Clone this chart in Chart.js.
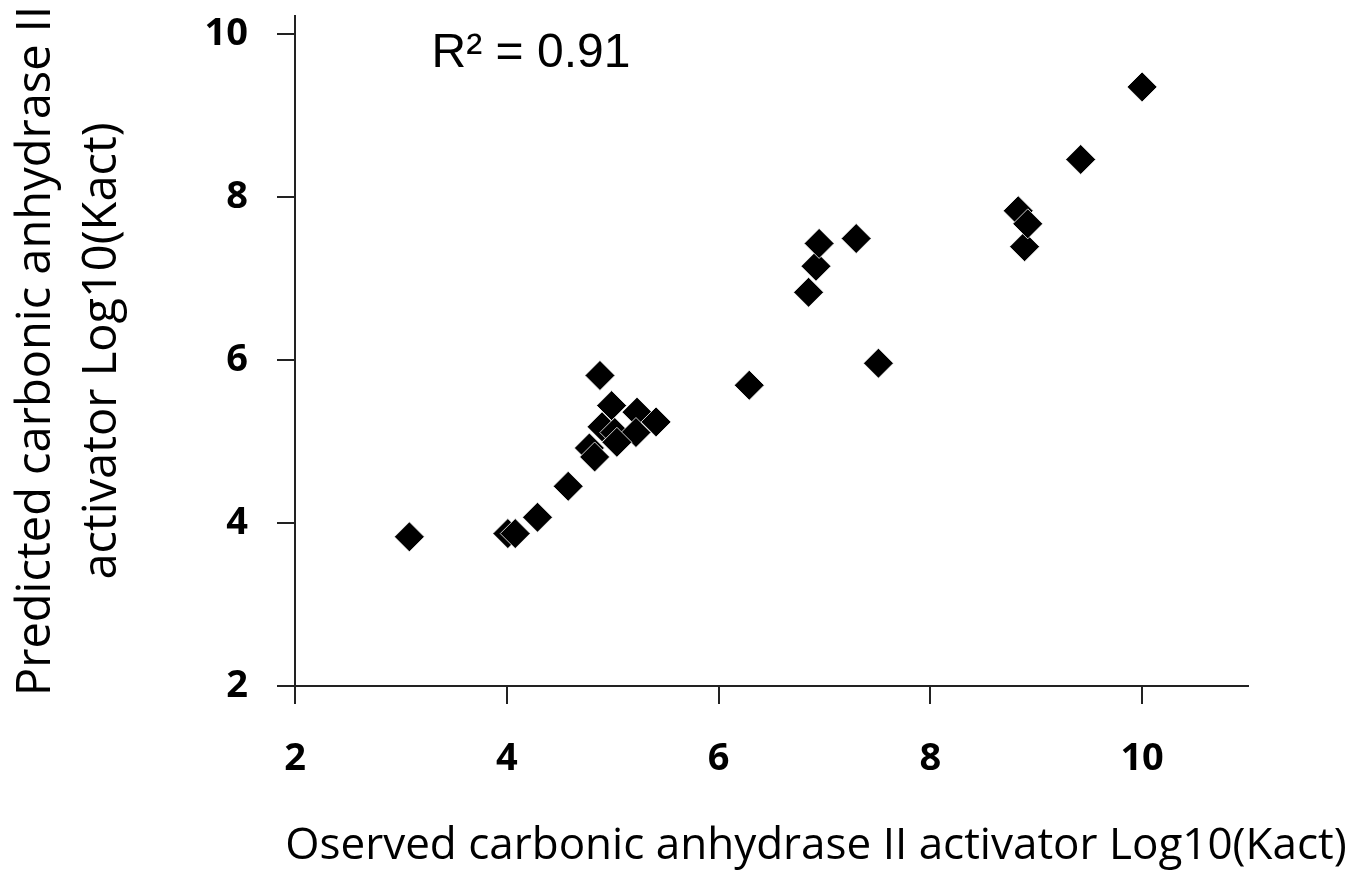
<!DOCTYPE html>
<html>
<head>
<meta charset="utf-8">
<script src="https://cdn.jsdelivr.net/npm/chart.js@4.4.0/dist/chart.umd.min.js"></script>
<style>
  body { margin: 0; background: #fff; }
  canvas { display: block; }
</style>
</head>
<body>
<canvas id="myChart" width="1363" height="875"></canvas>
<script>
// observed vs predicted log10(Kact)
const observed = [3.08, 4.01, 4.08, 4.29, 4.58, 4.88, 4.99, 5.23, 5.41, 4.90, 5.02, 5.22, 5.04, 4.78, 4.83,
                  6.29, 6.85, 6.92, 6.95, 7.30, 7.51, 8.83, 8.89, 8.92, 9.42, 10.0];
const predicted = [3.83, 3.87, 3.87, 4.07, 4.45, 5.81, 5.44, 5.36, 5.24, 5.18, 5.11, 5.11, 4.99, 4.92, 4.81,
                   5.69, 6.83, 7.15, 7.43, 7.49, 5.96, 7.83, 7.39, 7.67, 8.46, 9.35];
const xTicks = [2, 4, 6, 8, 10];
const yTicks = [2, 4, 6, 8, 10];
const rSquared = 'R\u00B2 = 0.91';
const xTitle = 'Oserved carbonic anhydrase II activator Log10(Kact)';

document.addEventListener('DOMContentLoaded', function() {
    const points = observed.map((x, i) => ({ x: x, y: predicted[i] }));

    // R² label and x title (the x title sits off-centre in the original, so drawn by hand)
    const extraText = {
        id: 'extraText',
        afterDraw(chart) {
            const { ctx, scales } = chart;
            ctx.save();
            ctx.fillStyle = '#000';
            ctx.font = '48px "Liberation Sans", Arial, sans-serif';
            ctx.textAlign = 'left';
            ctx.textBaseline = 'alphabetic';
            ctx.fillText(rSquared, scales.x.getPixelForValue(3.29), scales.y.getPixelForValue(9.59));

            // fit the title to the width it has in the original (~1077px)
            ctx.font = '47px "Open Sans", sans-serif';
            const size = Math.floor(47 * 1077 / ctx.measureText(xTitle).width);
            ctx.font = size + 'px "Open Sans", sans-serif';
            ctx.textAlign = 'center';
            ctx.textBaseline = 'middle';
            ctx.fillText(xTitle, 816, 846);
            ctx.restore();
        }
    };

    const tickFont = { family: '"Open Sans", sans-serif', size: 38, weight: 'bold' };
    const titleFont = { family: '"Open Sans", sans-serif', size: 47, lineHeight: 1.4 };

    const config = {
        type: 'scatter',
        data: {
            datasets: [{
                data: points,
                pointStyle: 'rectRot',
                pointRadius: 15,
                pointHoverRadius: 15,
                backgroundColor: '#000',
                borderColor: 'rgba(255,255,255,0.8)',
                borderWidth: 1
            }]
        },
        options: {
            responsive: false,
            animation: false,
            layout: { padding: { top: 15, right: 115, bottom: 0, left: 0 } },
            plugins: {
                legend: { display: false },
                tooltip: { enabled: false }
            },
            scales: {
                x: {
                    type: 'linear',
                    min: 2,
                    max: 11,
                    afterBuildTicks: (scale) => { scale.ticks = xTicks.map(v => ({ value: v })); },
                    afterFit: (scale) => {
                        scale.height = 189;
                        scale.paddingLeft = 0;
                        scale.paddingRight = 0;
                    },
                    border: { color: '#222', width: 2 },
                    grid: { drawOnChartArea: false, drawTicks: true, tickLength: 18, color: '#222', lineWidth: 2 },
                    ticks: { font: tickFont, color: '#000', padding: 32, maxRotation: 0 }
                },
                y: {
                    type: 'linear',
                    min: 2,
                    max: 10.22,
                    afterBuildTicks: (scale) => { scale.ticks = yTicks.map(v => ({ value: v })); },
                    afterFit: (scale) => {
                        scale.width = 295;
                        scale.paddingTop = 0;
                        scale.paddingBottom = 0;
                    },
                    border: { color: '#222', width: 2 },
                    grid: { drawOnChartArea: false, drawTicks: true, tickLength: 18, color: '#222', lineWidth: 2 },
                    ticks: { font: tickFont, color: '#000', padding: 29 },
                    title: {
                        display: true,
                        text: ['Predicted carbonic anhydrase II', 'activator Log10(Kact)'],
                        font: titleFont,
                        color: '#000',
                        padding: { top: 4, bottom: 0 }
                    }
                }
            }
        },
        plugins: [extraText]
    };

    const ctx = document.getElementById('myChart').getContext('2d');
    new Chart(ctx, config);
});
</script>
</body>
</html>
